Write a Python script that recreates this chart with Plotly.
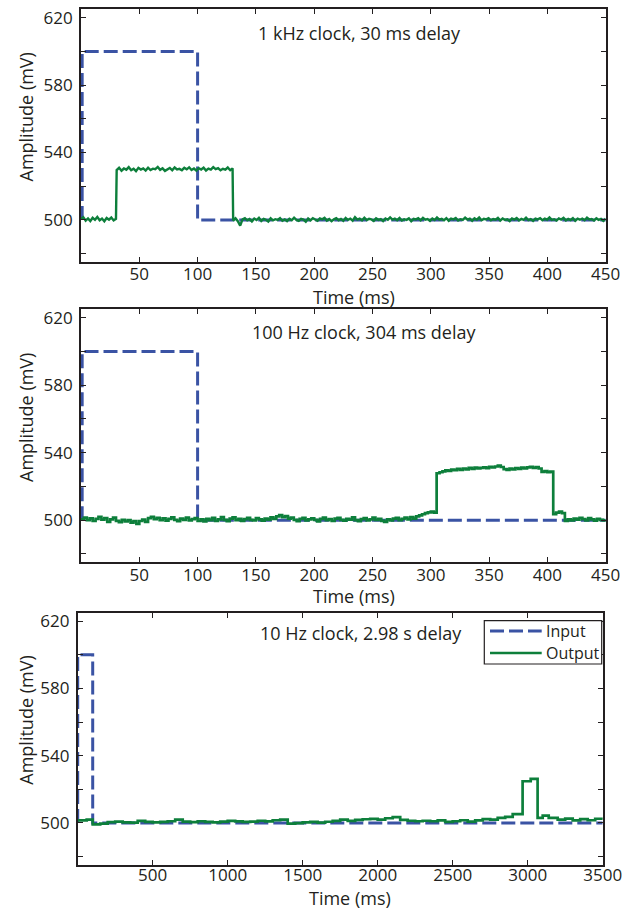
import numpy as np
import plotly.graph_objects as go

W, H = 639, 909
INK = "#231f20"
BLUE = "#3a53a4"
GREEN = "#0d7f3b"
FONT = "Open Sans"
DASH = "14px,5px"

# ---------------- data (time in ms, amplitude in mV) ----------------
# Panel 1: 1 kHz clock
IN1_T = [1, 1, 100, 100, 450]
IN1_V = [500, 600, 600, 500, 500]

OUT1_PRE = [500.4, 501.6, 499.6, 500.9, 499.3, 501.2, 500.0, 501.7, 499.8, 500.8,
            499.2, 501.1, 500.1, 501.4, 499.7, 500.6]
OUT1_HIGH = [529.6, 530.9, 529.2, 530.5, 529.8, 531.3, 529.5, 530.4, 528.9, 530.9,
             529.9, 530.6, 529.3, 531.0, 529.6, 530.4, 530.1, 531.4, 529.7, 530.6,
             529.1, 530.2, 530.8, 529.4, 531.1, 529.9, 530.3, 529.5, 530.9, 530.0,
             531.2, 529.6, 530.5, 529.2, 530.7, 529.9, 531.0, 529.3, 530.4, 529.8,
             531.3, 530.1, 530.7, 529.4, 530.3, 529.8, 531.1, 529.5, 530.6]
OUT1_POST = [499.6, 500.9, 499.2, 496.6, 500.3, 501.0, 499.7, 500.5, 499.1, 500.8,
             499.9, 501.2, 499.4, 500.6, 500.1, 499.0, 500.9, 499.7, 500.4, 500.0,
             501.1, 499.5, 500.3, 499.3, 500.7, 499.8, 501.3, 500.0, 499.4, 500.6,
             500.2, 498.9, 500.8, 499.7, 501.0, 500.1, 499.5, 500.9, 500.3, 501.2,
             499.6, 500.5, 499.2, 500.3, 501.0, 499.8, 500.6, 499.4, 501.1, 500.0,
             500.7, 499.5, 501.6, 500.2, 500.8, 499.7, 501.3, 499.9, 500.6, 500.3,
             499.4, 500.9, 500.0, 500.5, 499.3, 500.8, 500.1, 501.5, 500.2, 500.7,
             499.8, 501.1, 499.6, 500.4, 500.0, 500.9, 499.2, 500.6, 500.3, 501.0,
             499.7, 501.2, 500.1, 500.5, 499.4, 500.8, 499.9, 501.4, 500.2, 500.6,
             499.8, 501.0, 499.5, 500.7, 500.3, 501.1, 499.6, 500.4, 500.0, 501.3,
             500.2, 500.7, 499.4, 500.9, 500.1, 501.4, 499.8, 500.6, 500.3, 501.0,
             499.7, 500.5, 500.1, 501.2, 499.6, 500.8, 500.0, 500.4, 499.3, 500.9,
             500.2, 501.1, 499.7, 500.6, 500.0, 501.3, 499.9, 500.5, 499.4, 500.8,
             500.3, 501.0, 499.8, 500.7, 500.1, 501.5, 500.0, 500.4, 499.6, 500.9,
             500.2, 501.2, 499.7, 500.6, 499.9, 501.0, 499.5, 500.7, 500.1, 500.8,
             499.8, 501.3, 500.2, 500.5, 499.6, 500.9, 500.0, 500.6, 499.4, 500.7]

# Panel 2: 100 Hz clock, output sampled every 2.5 ms
IN2_T = [1, 1, 100, 100, 450]
IN2_V = [500, 600, 600, 500, 500]
OUT2_STEP = 2.5
OUT2_V = [500.5, 501.5, 500.0, 501.0, 499.5, 500.8, 502.0, 500.3, 501.2, 499.0,
          500.5, 501.5, 499.6, 498.8, 500.2, 499.2, 500.0, 498.5, 499.4, 497.8,
          499.5, 500.3, 499.0, 501.2, 502.0, 500.6, 501.4, 500.0, 501.0, 499.7,
          500.8, 501.6, 500.2, 499.4, 500.9, 500.1, 501.5, 499.8, 500.6, 501.2,
          499.5, 500.4, 499.2, 500.8, 500.0, 501.3, 499.6, 500.5, 501.8, 500.2,
          499.4, 500.9, 501.6, 500.0, 500.7, 499.5, 500.6, 501.4, 500.1, 499.8,
          501.2, 500.4, 499.7, 500.9, 500.3, 501.6, 500.8, 502.2, 503.0, 501.8,
          502.4, 500.9, 501.5, 500.2, 499.4, 500.7, 501.3, 499.8, 500.5, 501.0,
          500.2, 499.3, 500.8, 501.5, 500.0, 500.6, 499.5, 500.9, 501.4, 500.1,
          499.7, 500.8, 500.3, 501.6, 500.0, 499.4, 500.6, 501.2, 499.9, 500.5,
          501.5, 500.2, 500.8, 499.6, 499.0, 500.4, 499.8, 500.9, 501.3, 500.0,
          500.7, 501.5, 500.4, 501.8, 500.9, 502.2, 502.8, 503.5, 504.2, 504.6,
          505.0, 504.4, 527.8, 528.4, 528.9, 529.5, 529.2, 530.0, 529.6, 530.4,
          529.8, 530.6, 530.1, 531.0, 530.4, 531.2, 530.7, 531.0, 531.3, 530.8,
          531.6, 531.2, 531.8, 532.3, 531.5, 530.2, 529.8, 530.6, 530.1, 530.9,
          530.4, 531.1, 530.6, 531.3, 531.6, 530.9, 531.4, 530.6, 528.6, 529.0,
          528.4, 528.8, 503.6, 504.5, 505.0, 504.2, 499.6, 500.4, 499.8, 500.9,
          500.3, 501.4, 500.6, 499.9, 501.2, 500.5, 499.7, 500.8, 500.2, 499.8,
          500.3]

# Panel 3: 10 Hz clock, output level changes
IN3_T = [0, 0, 100, 100, 3500]
IN3_V = [500, 600, 600, 500, 500]
OUT3_T = [0, 60, 100, 150, 200, 250, 300, 350, 400, 450, 500, 550, 600, 650, 700,
          750, 800, 850, 900, 950, 1000, 1050, 1100, 1150, 1200, 1250, 1300, 1350,
          1400, 1450, 1500, 1550, 1600, 1650, 1700, 1750, 1800, 1850, 1900, 1950,
          2000, 2050, 2100, 2150, 2200, 2250, 2300, 2350, 2400, 2450, 2500, 2550,
          2600, 2650, 2700, 2750, 2800, 2850, 2900, 2966, 3020, 3066, 3100, 3140,
          3200, 3250, 3300, 3350, 3400, 3450, 3500]
OUT3_V = [501.5, 502.0, 499.2, 499.6, 500.5, 500.8, 500.3, 500.2, 501.2, 500.6,
          500.3, 500.6, 501.0, 502.0, 500.8, 500.5, 501.0, 500.6, 500.4, 500.8,
          501.2, 500.9, 500.6, 500.8, 501.3, 500.9, 501.6, 502.0, 499.6, 499.9,
          500.3, 500.6, 500.2, 500.7, 501.2, 502.0, 501.2, 501.8, 502.2, 502.4,
          502.0, 502.8, 503.5, 501.8, 501.3, 501.0, 501.3, 501.0, 501.5, 500.6,
          501.0, 501.6, 500.8, 501.5, 502.3, 502.0, 503.0, 503.6, 505.3, 524.8,
          526.2, 503.0, 504.3, 503.0, 502.0, 502.6, 501.5, 502.3, 501.6, 502.5,
          502.0]

TITLES = ["1 kHz clock, 30 ms delay", "100 Hz clock, 304 ms delay",
          "10 Hz clock, 2.98 s delay"]
X_RANGES = [[0, 450], [0, 450], [0, 3500]]
X_TICKS = [list(range(50, 451, 50)), list(range(50, 451, 50)),
           list(range(500, 3501, 500))]
Y_RANGE = [475, 625]
Y_TICKS = [480, 500, 520, 540, 560, 580, 600, 620]
Y_LABELED = [500, 540, 580, 620]
LEGEND_NAMES = ["Input", "Output"]

# ---------------- layout geometry (pixels) ----------------
# (left, right, top, bottom) of each plot box
BOXES = [(81, 605.7, 9.3, 262.0), (81, 605.7, 309.3, 562.3), (77.7, 602.7, 612.7, 865.0)]
X_LABEL_SHIFT = [-4, -4, -6]
TITLE_POS = [(359, 33), (364, 332), (361, 633)]
YLAB_POS = [(26, 117.5), (26, 418), (26, 720.7)]
XLAB_POS = [(353.5, 297), (353.5, 596), (349.5, 897.5)]
LEGEND_BOX = (484.3, 601.7, 620.7, 664.0)
LEGEND_ROWS = [631.0, 653.0]
LEGEND_SAMPLE = (490.0, 541.7)
LEGEND_TEXT_X = 543.5


def px_x(x):
    return x / W


def px_y(y):
    return 1 - y / H


# build output series
t1 = np.concatenate([np.linspace(0, 30, len(OUT1_PRE)),
                     np.linspace(30.6, 130, len(OUT1_HIGH)),
                     np.linspace(130.5, 450, len(OUT1_POST))])
v1 = np.array(OUT1_PRE + OUT1_HIGH + OUT1_POST)
t2 = np.arange(len(OUT2_V)) * OUT2_STEP

panels = [
    (IN1_T, IN1_V, t1, v1, "linear", 2.4),
    (IN2_T, IN2_V, t2, OUT2_V, "hv", 2.7),
    (IN3_T, IN3_V, OUT3_T, OUT3_V, "hv", 2.7),
]

fig = go.Figure()
layout = dict(
    width=W, height=H, margin=dict(l=0, r=0, t=0, b=0, autoexpand=False),
    paper_bgcolor="white", plot_bgcolor="white",
    font=dict(family=FONT, size=17, color=INK),
    showlegend=False,
)
annotations = []
shapes = []

for i, (it, iv, ot, ov, shape, lw) in enumerate(panels):
    n = i + 1
    xa = "x" if n == 1 else f"x{n}"
    ya = "y" if n == 1 else f"y{n}"
    fig.add_trace(go.Scatter(x=it, y=iv, mode="lines", name=LEGEND_NAMES[0],
                             line=dict(color=BLUE, width=3, dash=DASH),
                             xaxis=xa, yaxis=ya))
    fig.add_trace(go.Scatter(x=ot, y=ov, mode="lines", name=LEGEND_NAMES[1],
                             line=dict(color=GREEN, width=lw, shape=shape),
                             xaxis=xa, yaxis=ya))
    l, r, t, b = BOXES[i]
    axis_common = dict(showline=True, linecolor=INK, linewidth=1.8, mirror="allticks",
                       ticks="inside", ticklen=5, tickwidth=1, tickcolor=INK,
                       showgrid=False, zeroline=False, automargin=False,
                       tickfont=dict(family=FONT, size=17, color=INK))
    layout["xaxis" if n == 1 else f"xaxis{n}"] = dict(
        axis_common, domain=[px_x(l), px_x(r)], range=X_RANGES[i],
        tickvals=X_TICKS[i], ticktext=[str(v) for v in X_TICKS[i]],
        ticklabelstandoff=X_LABEL_SHIFT[i], anchor=ya)
    layout["yaxis" if n == 1 else f"yaxis{n}"] = dict(
        axis_common, domain=[px_y(b), px_y(t)], range=Y_RANGE,
        tickvals=Y_TICKS, ticktext=[str(v) if v in Y_LABELED else "" for v in Y_TICKS],
        ticklabelstandoff=3, anchor=xa)

    tx, ty = TITLE_POS[i]
    annotations.append(dict(text=TITLES[i], x=px_x(tx), y=px_y(ty), xref="paper", yref="paper",
                            showarrow=False, xanchor="center", yanchor="middle",
                            font=dict(family=FONT, size=18, color=INK)))
    yx, yy = YLAB_POS[i]
    annotations.append(dict(text="Amplitude (mV)", x=px_x(yx), y=px_y(yy), xref="paper",
                            yref="paper", showarrow=False, textangle=-90,
                            xanchor="center", yanchor="middle",
                            font=dict(family=FONT, size=18, color=INK)))
    xx, xy = XLAB_POS[i]
    annotations.append(dict(text="Time (ms)", x=px_x(xx), y=px_y(xy), xref="paper",
                            yref="paper", showarrow=False, xanchor="center", yanchor="middle",
                            font=dict(family=FONT, size=18, color=INK)))

# legend box drawn in the bottom panel
lx0, lx1, ly0, ly1 = LEGEND_BOX
shapes.append(dict(type="rect", xref="paper", yref="paper",
                   x0=px_x(lx0), x1=px_x(lx1), y0=px_y(ly1), y1=px_y(ly0),
                   line=dict(color=INK, width=1.2), fillcolor="white", layer="above"))
sx0, sx1 = LEGEND_SAMPLE
for name, row, style in zip(LEGEND_NAMES, LEGEND_ROWS,
                            [dict(color=BLUE, width=3, dash=DASH),
                             dict(color=GREEN, width=2.6)]):
    shapes.append(dict(type="line", xref="paper", yref="paper",
                       x0=px_x(sx0), x1=px_x(sx1), y0=px_y(row), y1=px_y(row),
                       line=style, layer="above"))
    annotations.append(dict(text=name, x=px_x(LEGEND_TEXT_X), y=px_y(row), xref="paper",
                            yref="paper", showarrow=False, xanchor="left", yanchor="middle",
                            font=dict(family=FONT, size=16, color=INK)))

layout["annotations"] = annotations
layout["shapes"] = shapes
fig.update_layout(**layout)
fig.write_html("out.html")
